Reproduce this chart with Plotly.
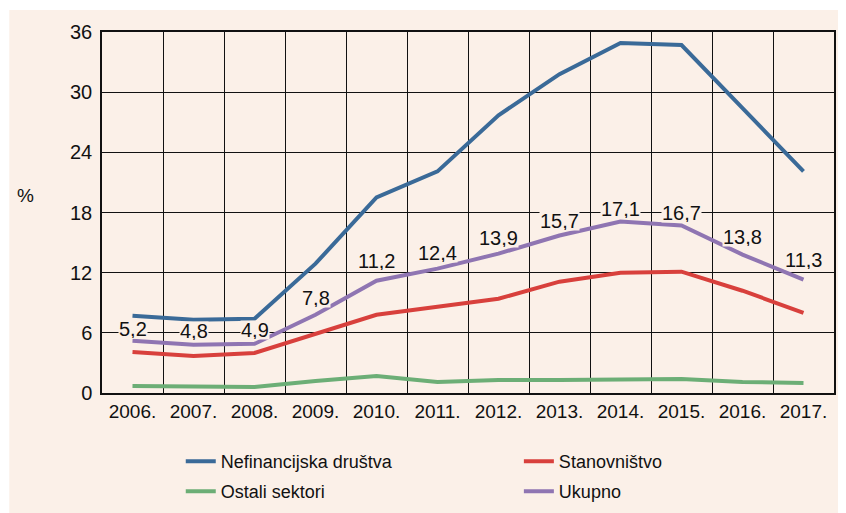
import plotly.graph_objects as go

years = ["2006.", "2007.", "2008.", "2009.", "2010.", "2011.", "2012.", "2013.", "2014.", "2015.", "2016.", "2017."]
nefinancijska = [7.7, 7.3, 7.4, 12.9, 19.5, 22.1, 27.7, 31.8, 34.9, 34.7, 28.4, 22.1]
stanovnistvo = [4.1, 3.7, 4.0, 5.9, 7.8, 8.6, 9.4, 11.1, 12.0, 12.1, 10.2, 8.0]
ostali = [0.7, 0.6, 0.6, 1.2, 1.7, 1.1, 1.3, 1.3, 1.4, 1.4, 1.1, 1.0]
ukupno = [5.2, 4.8, 4.9, 7.8, 11.2, 12.4, 13.9, 15.7, 17.1, 16.7, 13.8, 11.3]
y_ticks = [0, 6, 12, 18, 24, 30, 36]

# styling: vertical pixel offset of each "Ukupno" value label above its point
label_offsets_px = [12, 14, 14, 17, 20, 16, 16, 15, 13, 13, 18, 20]

PANEL = "#FBF0E8"
FONT = "Liberation Sans, Arial, sans-serif"

fig = go.Figure()
series = [
    ("Nefinancijska društva", nefinancijska, "#3A6A98", "legend"),
    ("Stanovništvo", stanovnistvo, "#D8403C", "legend2"),
    ("Ostali sektori", ostali, "#6CAE76", "legend3"),
    ("Ukupno", ukupno, "#8F75B2", "legend4"),
]
for name, vals, col, lg in series:
    fig.add_trace(go.Scatter(x=years, y=vals, name=name, mode="lines",
                             line=dict(color=col, width=4), legend=lg))

for i, v in enumerate(ukupno):
    fig.add_annotation(x=i, y=v, text=f"{v:.1f}".replace(".", ","), showarrow=False,
                       yshift=label_offsets_px[i], bgcolor=PANEL, borderpad=0, height=18,
                       font=dict(family=FONT, size=20, color="#111111"))

fig.add_annotation(xref="paper", yref="paper", x=-0.105, xanchor="center", y=0.548,
                   text="%", showarrow=False,
                   font=dict(family=FONT, size=19, color="#111111"))

# thin white band at top/left of panel
fig.add_shape(type="rect", xref="paper", yref="paper", x0=-0.2, x1=1.1, y0=1.061, y1=1.2,
              fillcolor="white", line_width=0, layer="below")
fig.add_shape(type="rect", xref="paper", yref="paper", x0=-0.2, x1=-0.1267, y0=-0.5, y1=1.2,
              fillcolor="white", line_width=0, layer="below")

def leg(x, y):
    return dict(x=x, xanchor="left", yref="container", y=y, yanchor="top",
                bgcolor="rgba(0,0,0,0)", font=dict(family=FONT, size=18, color="#111111"))

fig.update_layout(
    width=838, height=505,
    margin=dict(l=94, r=10, t=24, b=120),
    paper_bgcolor=PANEL, plot_bgcolor=PANEL,
    font=dict(family=FONT, size=20, color="#111111"),
    showlegend=True,
    legend=leg(0.1076, 0.1386),
    legend2=leg(0.5695, 0.1386),
    legend3=leg(0.1076, 0.0792),
    legend4=leg(0.5695, 0.0792),
    xaxis=dict(type="category", range=[-0.5, 11.5], tickson="boundaries", showgrid=True,
               gridcolor="#111111", gridwidth=1.4, showline=True, mirror=True,
               linecolor="#111111", linewidth=1.5, ticks="", tickangle=0,
               tickfont=dict(size=19), ticklabelstandoff=0),
    yaxis=dict(range=[0, 36], tickvals=y_ticks, showgrid=True, gridcolor="#111111",
               gridwidth=1.4, showline=True, mirror=True, linecolor="#111111", linewidth=1.5,
               ticks="", zeroline=False, tickfont=dict(size=20), ticklabelstandoff=4),
)

fig.write_html("out.html")
